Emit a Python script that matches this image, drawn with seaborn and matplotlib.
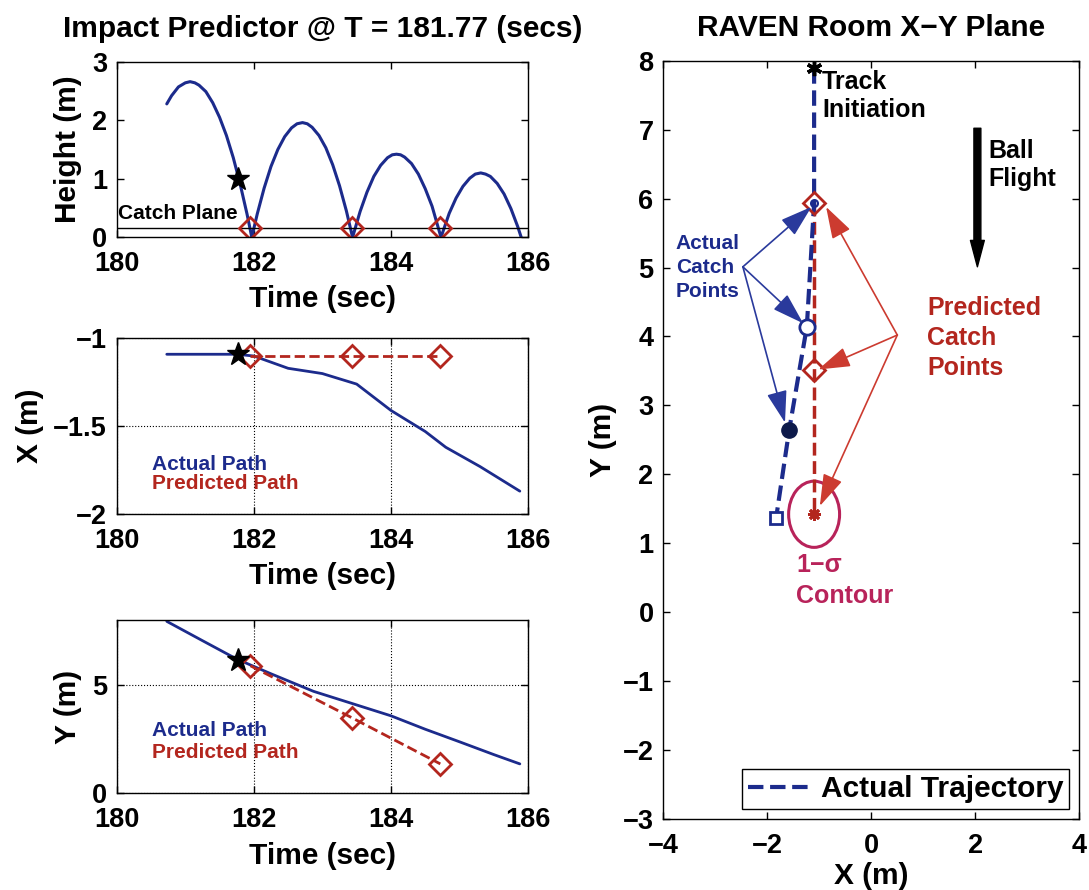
import seaborn as sns
import matplotlib.pyplot as plt
from matplotlib.patches import Ellipse

# Dados
t_height = [180.73, 180.80, 180.90, 181.00, 181.07, 181.14, 181.20, 181.30, 181.40, 181.50, 181.60, 181.70,
            181.80, 181.90, 181.97, 182.05, 182.15, 182.25, 182.35, 182.45, 182.55, 182.63, 182.71, 182.78,
            182.85, 182.95, 183.05, 183.15, 183.25, 183.35, 183.44, 183.55, 183.65, 183.75, 183.85, 183.95,
            184.02, 184.08, 184.14, 184.20, 184.30, 184.40, 184.50, 184.60, 184.73, 184.85, 184.95, 185.05,
            185.15, 185.23, 185.31, 185.38, 185.45, 185.55, 185.65, 185.75, 185.85, 185.90]
height = [2.28, 2.42, 2.57, 2.64, 2.66, 2.64, 2.60, 2.49, 2.30, 2.05, 1.74, 1.36,
          0.91, 0.40, 0.00, 0.40, 0.84, 1.21, 1.50, 1.72, 1.87, 1.94, 1.96, 1.94,
          1.88, 1.74, 1.53, 1.24, 0.88, 0.45, 0.00, 0.44, 0.77, 1.04, 1.23, 1.36,
          1.41, 1.42, 1.41, 1.37, 1.26, 1.08, 0.83, 0.53, 0.00, 0.41, 0.67, 0.87,
          1.01, 1.08, 1.10, 1.08, 1.04, 0.92, 0.74, 0.49, 0.18, 0.00]
catch_plane = 0.15

t_x = [180.73, 181.20, 181.75, 182.00, 182.50, 183.00, 183.50, 184.00, 184.50, 184.80, 185.30, 185.88]
x_pos = [-1.09, -1.09, -1.09, -1.10, -1.17, -1.20, -1.26, -1.41, -1.53, -1.62, -1.73, -1.87]

t_y = [180.73, 181.25, 181.75, 182.25, 182.87, 183.50, 184.00, 184.50, 185.00, 185.50, 185.88]
y_pos = [7.94, 7.05, 6.20, 5.52, 4.71, 4.08, 3.58, 2.96, 2.38, 1.79, 1.36]

# previsões nos instantes de captura
t_pred = [181.95, 183.43, 184.72]
h_pred = [0.15, 0.15, 0.15]
x_pred = [-1.10, -1.10, -1.10]
y_pred = [5.89, 3.49, 1.36]

t_now = 181.77
h_now, x_now, y_now = 1.0, -1.09, 6.15

# plano X-Y da sala
traj_x = [-1.10, -1.10, -1.24, -1.58, -1.83]
traj_y = [7.89, 5.93, 4.14, 2.64, 1.37]
pred_room_x = [-1.10, -1.10, -1.10]
pred_room_y = [5.93, 3.51, 1.42]
sigma_x, sigma_y = 0.49, 0.48

blue_src = (-2.47, 5.01)
blue_tgt = [(-1.15, 5.88), (-1.31, 4.19), (-1.66, 2.75)]
red_src = (0.50, 4.02)
red_tgt = [(-0.87, 5.88), (-1.02, 3.52), (-0.99, 1.54)]

BLUE = '#1c2b8c'
RED = '#b3261e'
PINK = '#b8235a'

sns.set_style("ticks", {"xtick.direction": "in", "ytick.direction": "in"})
plt.rcParams['font.family'] = ['Liberation Sans', 'DejaVu Sans']
plt.rcParams['font.weight'] = 'bold'
plt.rcParams['axes.labelweight'] = 'bold'
plt.rcParams['axes.titleweight'] = 'bold'
plt.rcParams['axes.edgecolor'] = 'black'
plt.rcParams['text.color'] = 'black'
plt.rcParams['axes.labelcolor'] = 'black'
plt.rcParams['xtick.color'] = 'black'
plt.rcParams['ytick.color'] = 'black'
plt.rcParams['xtick.labelsize'] = 19.5
plt.rcParams['ytick.labelsize'] = 19.5
plt.rcParams['axes.labelsize'] = 21.5
plt.rcParams['axes.titlesize'] = 21.5

fig = plt.figure(figsize=(10.89, 8.9), dpi=100)
ax1 = fig.add_axes([0.1072, 0.7334, 0.3777, 0.1972])
ax2 = fig.add_axes([0.1072, 0.4225, 0.3777, 0.1972])
ax3 = fig.add_axes([0.1072, 0.1086, 0.3777, 0.1947])
ax4 = fig.add_axes([0.6091, 0.0798, 0.3820, 0.8520])

for ax in (ax1, ax2, ax3, ax4):
    ax.tick_params(top=True, right=True, length=5, width=1)
    ax.tick_params(axis='y', pad=7)
    ax.tick_params(axis='x', pad=10)
    for s in ax.spines.values():
        s.set_linewidth(1)
        s.set_color('black')

# Altura
sns.lineplot(x=t_height, y=height, ax=ax1, color=BLUE, lw=2.2, sort=False, estimator=None)
ax1.axhline(catch_plane, color='k', lw=1)
ax1.plot(t_pred, h_pred, ls='none', marker='D', ms=11, mfc='none', mec=RED, mew=2)
ax1.plot(t_now, h_now, marker='*', color='k', ms=17)
ax1.text(180.02, 0.32, 'Catch Plane', fontsize=15, va='baseline')
ax1.set_xlim(180, 186)
ax1.set_ylim(0, 3)
ax1.set_xticks([180, 182, 184, 186])
ax1.set_yticks([0, 1, 2, 3])
ax1.set_xlabel('Time (sec)', labelpad=6)
ax1.set_ylabel('Height (m)')
ax1.yaxis.set_label_coords(-0.085, 0.5)
ax1.set_title('Impact Predictor @ T = 181.77 (secs)', pad=18)

# X
sns.lineplot(x=t_x, y=x_pos, ax=ax2, color=BLUE, lw=2, sort=False, estimator=None)
sns.lineplot(x=t_pred, y=x_pred, ax=ax2, color=RED, lw=2, linestyle='--', dashes=(4, 3),
             marker='D', ms=11, mfc='none', mec=RED, mew=2, sort=False, estimator=None)
ax2.plot(t_now, x_now, marker='*', color='k', ms=17)
ax2.text(180.51, -1.752, 'Actual Path', color=BLUE, fontsize=15, va='baseline')
ax2.text(180.51, -1.856, 'Predicted Path', color=RED, fontsize=15, va='baseline')
ax2.set_xlim(180, 186)
ax2.set_ylim(-2, -1)
ax2.set_xticks([180, 182, 184, 186])
ax2.set_yticks([-2, -1.5, -1])
ax2.set_yticklabels(['\u22122', '\u22121.5', '\u22121'])
ax2.grid(True, linestyle=':', color='k', lw=0.8)
ax2.set_xlabel('Time (sec)', labelpad=6)
ax2.set_ylabel('X (m)')
ax2.yaxis.set_label_coords(-0.177, 0.5)

# Y
sns.lineplot(x=t_y, y=y_pos, ax=ax3, color=BLUE, lw=2, sort=False, estimator=None)
sns.lineplot(x=t_pred, y=y_pred, ax=ax3, color=RED, lw=2, linestyle='--', dashes=(4, 3),
             marker='D', ms=11, mfc='none', mec=RED, mew=2, sort=False, estimator=None)
ax3.plot(t_now, y_now, marker='*', color='k', ms=17)
ax3.text(180.51, 2.63, 'Actual Path', color=BLUE, fontsize=15, va='baseline')
ax3.text(180.51, 1.63, 'Predicted Path', color=RED, fontsize=15, va='baseline')
ax3.set_xlim(180, 186)
ax3.set_ylim(0, 8)
ax3.set_xticks([180, 182, 184, 186])
ax3.set_yticks([0, 5])
ax3.grid(True, linestyle=':', color='k', lw=0.8)
ax3.set_xlabel('Time (sec)', labelpad=6)
ax3.set_ylabel('Y (m)')
ax3.yaxis.set_label_coords(-0.085, 0.5)

# Plano X-Y
sns.lineplot(x=pred_room_x, y=pred_room_y, ax=ax4, color=RED, lw=2.5, linestyle='--', dashes=(4, 3),
             sort=False, estimator=None)
sns.lineplot(x=traj_x, y=traj_y, ax=ax4, color=BLUE, lw=3, linestyle='--', dashes=(3.5, 3),
             sort=False, estimator=None, label='Actual Trajectory')
ax4.plot(traj_x[0], traj_y[0], marker=(6, 2, 0), color='k', ms=11, mew=2.5)
ax4.plot(pred_room_x[:2], pred_room_y[:2], ls='none', marker='D', ms=11, mfc='none', mec=RED, mew=2)
ax4.plot(pred_room_x[2], pred_room_y[2], marker=(8, 2, 0), color=RED, ms=9, mew=2)
ax4.plot(traj_x[1], traj_y[1], marker='o', ms=5, mfc='none', mec=BLUE, mew=1.5)
ax4.plot(traj_x[2], traj_y[2], marker='o', ms=11, mfc='white', mec=BLUE, mew=2)
ax4.plot(traj_x[3], traj_y[3], marker='o', ms=11, color='#0d1a4a')
ax4.plot(traj_x[4], traj_y[4], marker='s', ms=9, mfc='white', mec=BLUE, mew=2)
ax4.add_patch(Ellipse((pred_room_x[2], pred_room_y[2]), 2 * sigma_x, 2 * sigma_y,
                      fill=False, ec=PINK, lw=2.2))

for tx, ty in blue_tgt:
    ax4.annotate('', xy=(tx, ty), xytext=blue_src,
                 arrowprops=dict(arrowstyle='-|>,head_length=1.1,head_width=0.35',
                                 color='#2a3a9c', lw=1.2, mutation_scale=18,
                                 shrinkA=0, shrinkB=0))
for tx, ty in red_tgt:
    ax4.annotate('', xy=(tx, ty), xytext=red_src,
                 arrowprops=dict(arrowstyle='-|>,head_length=1.1,head_width=0.35',
                                 color='#cc3b30', lw=1.2, mutation_scale=18,
                                 shrinkA=0, shrinkB=0))
ax4.annotate('', xy=(2.04, 5.01), xytext=(2.04, 7.02),
             arrowprops=dict(arrowstyle='simple,head_length=0.95,head_width=0.5,tail_width=0.25',
                             color='k', mutation_scale=20, shrinkA=0, shrinkB=0))

ax4.text(-0.95, 7.86, 'Track\nInitiation', fontsize=18, va='top', linespacing=1.2)
ax4.text(2.25, 6.86, 'Ball\nFlight', fontsize=18, va='top', linespacing=1.2)
ax4.text(1.07, 4.58, 'Predicted\nCatch\nPoints', fontsize=18, va='top', color=RED, linespacing=1.3)
ax4.text(-3.76, 5.49, 'Actual\nCatch\nPoints', fontsize=15, va='top', color=BLUE, linespacing=1.35)
ax4.text(-1.45, 0.86, '1\u2212\u03c3\nContour', fontsize=18, va='top', color=PINK, linespacing=1.35)

ax4.set_xlim(-4, 4)
ax4.set_ylim(-3, 8)
ax4.set_xticks([-4, -2, 0, 2, 4])
ax4.set_yticks(range(-3, 9))
ax4.set_xlabel('X (m)', labelpad=2)
ax4.set_ylabel('Y (m)')
ax4.set_title('RAVEN Room X\u2212Y Plane', pad=18)
leg = ax4.legend(loc='lower right', fontsize=21.5, frameon=True, fancybox=False,
                 edgecolor='black', framealpha=1, borderpad=0.2, borderaxespad=0.33,
                 handlelength=2.1, handletextpad=0.33)
leg.get_frame().set_linewidth(1)

fig.savefig('out.png', dpi=100)
